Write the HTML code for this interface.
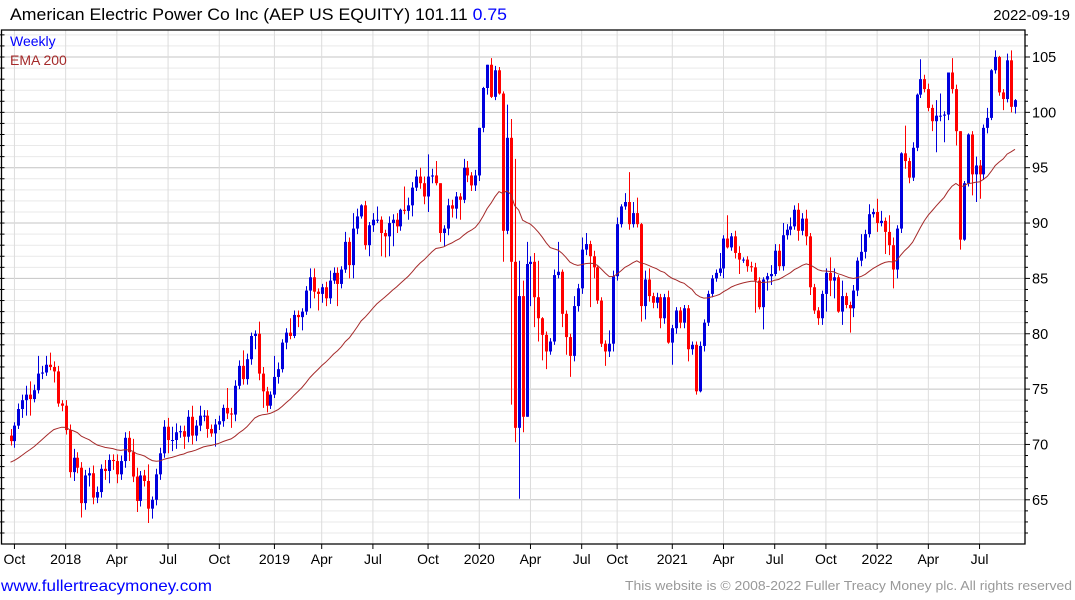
<!DOCTYPE html>
<html><head><meta charset="utf-8"><style>
html,body{margin:0;padding:0;background:#fff;}
svg{display:block;font-family:"Liberation Sans",sans-serif;}
</style></head><body>
<svg id="chart" width="1075" height="600" viewBox="0 0 1075 600" xmlns="http://www.w3.org/2000/svg">
<g id="grid"></g>
<g id="candles"></g>
<path id="ema" fill="none" stroke="#a52a2a" stroke-width="1"/>
<g id="axes"></g>
<text x="10" y="20" font-size="17" textLength="497" lengthAdjust="spacingAndGlyphs" fill="#000">American Electric Power Co Inc (AEP US EQUITY) 101.11 <tspan fill="#0000ff">0.75</tspan></text>
<text x="1070" y="20" font-size="15" text-anchor="end" fill="#000">2022-09-19</text>
<text x="10" y="46" font-size="14" fill="#0000ff">Weekly</text>
<text x="10" y="65" font-size="14" fill="#a52a2a">EMA 200</text>
<text x="1" y="591" font-size="16" textLength="211" lengthAdjust="spacingAndGlyphs" fill="#0000ff">www.fullertreacymoney.com</text>
<text x="625" y="590" font-size="13" textLength="447" lengthAdjust="spacingAndGlyphs" fill="#999">This website is © 2008-2022 Fuller Treacy Money plc. All rights reserved</text>
</svg>
<script>
const closes = [70.3,71.7,73.2,74.0,74.5,74.1,74.9,76.4,76.5,77.2,77.0,76.6,73.7,73.5,71.3,67.5,68.8,67.9,64.7,67.2,67.4,65.2,65.7,67.8,67.6,68.6,68.5,67.3,68.5,70.6,69.3,67.1,64.9,67.2,66.7,64.2,65.0,67.3,69.2,71.6,70.4,70.4,71.1,71.2,70.7,72.5,70.8,71.7,72.6,72.6,71.4,71.0,71.8,72.1,73.3,72.8,72.7,75.3,77.1,75.9,77.7,79.8,80.0,
76.4,74.8,73.5,74.5,76.1,76.8,79.2,80.1,79.8,81.7,81.5,82.0,83.9,85.1,83.8,83.6,84.2,83.2,84.8,85.5,84.5,85.8,88.3,86.2,89.5,90.6,91.6,88.0,89.8,90.3,90.3,89.1,88.8,90.0,90.3,89.7,91.2,91.1,91.6,93.2,94.2,93.6,92.4,94.2,94.3,93.6,89.1,89.5,91.6,91.3,92.4,92.1,95.0,94.3,93.4,94.3,98.6,102.2,104.3,101.4,103.8,
101.7,89.3,97.7,86.5,71.5,83.4,72.5,86.3,86.5,83.3,81.4,79.9,78.4,79.3,85.3,85.6,81.8,79.7,78.0,82.5,84.1,87.6,88.1,87.0,86.0,83.0,79.1,78.4,79.1,85.2,89.9,91.5,91.9,89.9,90.9,89.9,82.5,84.9,83.4,82.8,83.3,81.4,83.3,79.2,80.5,82.1,81.0,82.3,78.6,79.0,74.8,78.9,81.0,83.6,85.0,85.5,85.9,
88.6,87.8,88.8,87.3,86.7,86.7,86.1,86.0,84.8,82.4,84.9,85.2,85.4,87.5,86.1,88.9,89.4,89.7,91.2,89.3,90.4,88.8,84.2,82.1,81.4,83.6,85.5,84.8,85.1,82.0,83.4,82.6,82.3,83.9,86.6,87.4,89.0,90.8,91.0,90.0,90.2,89.2,88.0,85.8,
89.5,96.3,95.6,94.1,96.8,101.6,103.0,102.1,100.4,99.2,99.7,99.7,99.8,103.6,102.1,98.3,88.5,93.6,98.0,94.4,95.2,94.4,98.6,99.5,103.8,105.0,101.8,101.2,104.7,100.5,101.1];
const upWick = [0.6,0.3,0.5,0.5,0.8,1.2,0.5,1.6,0.6,0.8,1.1,0.5,0.5,0.3,0.5,0.5,0.8,0.5,0.5,0.5,0.5,0.7,0.5,0.4,0.8,0.5,0.5,0.6,0.5,0.5,0.6,1.2,0.8,0.4,0.5,1.5,0.3,0.5,0.5,0.6,0.8,1.2,0.8,0.5,0.5,0.6,1.0,0.5,0.9,0.5,0.5,0.4,0.5,0.5,0.3,1.8,0.5,0.5,0.5,1.4,0.5,0.3,0.3,
1.1,0.6,0.4,0.3,1.9,0.6,0.3,0.4,1.3,0.4,0.4,0.3,0.4,0.8,0.8,0.3,0.3,0.5,0.9,0.5,0.5,0.3,0.9,0.4,1.4,0.7,0.1,0.4,0.3,0.6,1.2,0.3,0.3,0.6,0.5,0.6,0.1,2.1,0.7,0.5,0.6,0.8,0.6,2.0,0.6,1.3,0.0,0.3,0.6,0.5,0.4,0.3,0.8,0.6,0.3,0.5,0.0,0.1,0.0,0.6,0.4,
0.3,0.2,3.0,1.7,9.3,3.2,1.4,2.0,0.5,0.8,3.3,0.1,0.3,0.3,0.5,2.7,0.2,0.3,0.3,0.9,0.4,1.1,1.0,0.3,0.5,0.1,0.3,0.3,1.2,0.5,0.6,0.2,0.8,2.7,1.0,1.4,0.1,0.8,1.0,0.3,0.4,0.3,0.3,0.6,0.3,0.3,0.3,0.3,0.3,0.3,0.3,0.4,0.3,0.3,0.3,0.3,1.4,
0.3,2.1,0.3,0.5,0.6,0.2,0.3,0.4,0.4,0.3,0.2,0.3,0.8,0.6,0.6,1.1,0.5,0.8,0.4,0.6,0.5,0.8,0.3,0.3,0.3,0.3,0.4,1.4,0.8,0.2,1.4,0.3,0.3,0.5,0.3,1.6,0.4,0.9,0.3,1.2,0.9,0.3,1.5,0.7,
0.3,0.1,2.5,0.3,0.5,0.1,1.8,0.4,0.5,0.3,1.4,2.0,0.3,0.0,1.3,0.4,0.0,0.2,0.1,0.3,0.8,0.5,0.3,0.9,0.1,0.6,0.1,0.3,0.6,0.9,0.1];
const downWick = [0.4,0.6,0.3,0.8,1.4,1.5,0.3,0.3,0.5,0.3,0.3,1.0,0.3,0.5,0.4,0.5,0.8,0.5,1.3,0.6,1.0,0.6,0.5,0.5,0.8,1.1,0.8,0.8,0.5,0.6,0.8,0.5,1.0,0.5,0.5,1.3,0.9,0.5,0.5,0.4,1.2,1.0,0.8,0.5,1.1,0.5,0.8,0.5,0.5,0.5,0.8,0.3,1.2,0.5,0.5,0.5,1.2,0.6,0.3,0.5,0.5,0.5,1.2,
0.6,1.5,0.6,0.3,0.3,0.6,0.3,0.6,0.3,0.2,0.9,1.2,0.3,1.6,0.6,1.5,0.8,0.7,0.5,0.3,2.0,0.4,0.3,1.2,1.2,0.5,0.2,0.4,1.0,0.6,0.3,2.1,1.9,1.8,2.1,0.6,0.4,0.3,0.8,1.0,0.3,0.5,0.7,1.4,0.6,0.2,0.8,1.2,0.6,0.8,0.9,1.8,0.3,0.6,0.5,0.5,0.5,0.4,0.6,0.1,0.3,
0.1,2.8,0.3,12.9,1.3,6.4,1.4,0.0,3.8,2.7,2.1,2.3,1.6,0.3,0.3,0.3,1.2,1.6,1.9,0.5,0.5,0.5,0.5,4.6,1.0,0.3,0.3,1.3,0.5,0.7,0.4,0.3,0.3,0.5,0.3,0.3,1.4,1.2,0.5,0.5,0.5,0.9,0.5,0.1,2.0,0.5,0.5,0.5,1.1,0.5,0.3,0.1,0.5,0.3,0.3,0.3,0.3,
0.9,0.1,0.3,0.5,1.3,0.3,0.5,0.4,2.9,0.2,2.0,1.0,0.8,0.2,0.4,0.4,0.4,0.5,0.3,0.9,0.4,0.8,0.7,0.3,0.6,0.6,1.6,1.4,1.6,0.1,1.2,0.3,2.2,0.8,0.5,0.5,0.6,0.3,0.3,0.8,0.3,2.0,0.9,1.7,
0.8,0.4,0.7,0.5,0.3,0.3,0.3,0.3,0.3,0.9,2.8,0.5,2.4,0.5,0.4,1.3,0.9,0.1,0.3,1.9,2.5,2.2,0.5,0.5,0.2,0.3,0.3,1.0,0.3,0.5,0.6];
const firstOpen = 70.8;
const emaSeed = 68.4;
const emaPeriod = 40;
const yTicks = [65,70,75,80,85,90,95,100,105];
const xLabels = ["Oct","2018","Apr","Jul","Oct","2019","Apr","Jul","Oct","2020","Apr","Jul","Oct","2021","Apr","Jul","Oct","2022","Apr","Jul"];
const xLabelWeek = [1,14,27,40,53,67,79,92,106,119,132,145,154,168,181,194,207,220,233,246];

const NS = "http://www.w3.org/2000/svg";
const L = 1.5, R = 1025, T = 30, B = 544;
const x0 = 10.5, step = (1015 - 10.5) / (closes.length - 1);
function y(v){ return 57 + (105 - v) * 11.07; }
function x(i){ return x0 + i * step; }
function mk(tag, attrs, parent){ const e = document.createElementNS(NS, tag); for (const k in attrs) e.setAttribute(k, attrs[k]); parent.appendChild(e); return e; }

const grid = document.getElementById('grid');
for (let v = 62; v <= 107; v++) {
  const major = v % 5 === 0;
  const ln = mk('line', {x1:L, x2:R, y1:y(v), y2:y(v), stroke: major ? '#c4c4c4' : '#e9e9e9', 'stroke-width':1}, grid);
  
  
}
xLabelWeek.forEach(w => {
  const ln = mk('line', {x1:x(w), x2:x(w), y1:T, y2:B, stroke:'#dcdcdc', 'stroke-width':1}, grid);
  
  
});

const cg = document.getElementById('candles');
let prev = firstOpen;
closes.forEach((c, i) => {
  const o = prev;
  const up = c >= o;
  const col = up ? '#0000dd' : '#ff0000';
  const hi = Math.max(o, c) + (upWick[i] || 0);
  const lo = Math.min(o, c) - (downWick[i] || 0);
  const cx = Math.round(x(i)) + 0.5;
  const wick = mk('line', {x1:cx, x2:cx, y1:y(hi), y2:y(lo), stroke:col, 'stroke-width':1}, cg);
  
  
  const top = y(Math.max(o, c)), bot = y(Math.min(o, c));
  const body = mk('rect', {x:cx - 1.5, y:top, width:3, height:Math.max(1, bot - top), fill:col}, cg);
  
  
  prev = c;
});

let ema = emaSeed, d = '';
const k = 2 / (emaPeriod + 1);
closes.forEach((c, i) => {
  ema = i === 0 ? emaSeed : ema + k * (c - ema);
  d += (i ? 'L' : 'M') + x(i).toFixed(1) + ' ' + y(ema).toFixed(1);
});
document.getElementById('ema').setAttribute('d', d);

const ax = document.getElementById('axes');
const frame = mk('path', {d:`M${L} ${T}H${R}V${B}H${L}Z`, fill:'none', stroke:'#000', 'stroke-width':1.3}, ax);


for (let v = 62; v <= 107; v++) {
  const t1 = mk('line', {x1:R, x2:R + (v % 5 === 0 ? 5 : 3), y1:y(v), y2:y(v), stroke:'#000'}, ax);
  
  
  const t2 = mk('line', {x1:0, x2:L + 3, y1:y(v), y2:y(v), stroke:'#000'}, ax);
  
  
}
yTicks.forEach(v => {
  const t = mk('text', {x:1032, y:y(v) + 5, 'font-size':14.5, fill:'#000'}, ax);
  t.textContent = v;
  
  
});
xLabels.forEach((lab, j) => {
  const xx = x(xLabelWeek[j]);
  const tk = mk('line', {x1:xx, x2:xx, y1:B, y2:B + 5, stroke:'#000'}, ax);
  
  
  const t = mk('text', {x:xx, y:564, 'font-size':14, 'text-anchor':'middle', fill:'#000'}, ax);
  t.textContent = lab;
  
  
});
</script>
</body></html>
